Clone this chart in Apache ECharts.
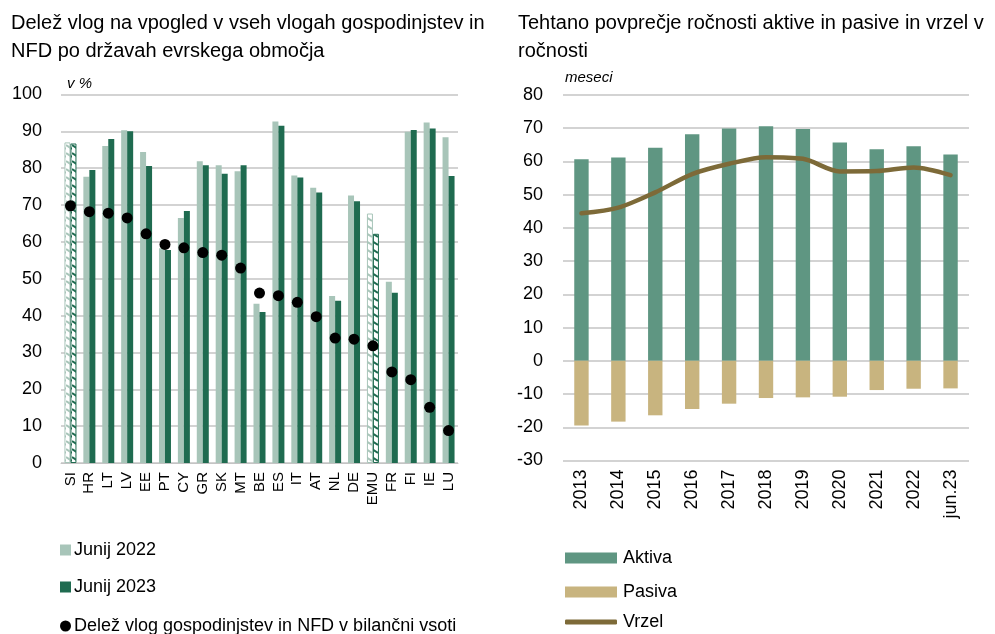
<!DOCTYPE html>
<html>
<head>
<meta charset="utf-8">
<script src="https://cdn.jsdelivr.net/npm/echarts@6/dist/echarts.min.js"></script>
<style>
  html, body { margin: 0; padding: 0; background: #fff; }
  #chart { width: 995px; height: 634px; }
</style>
</head>
<body>
<div id="chart"></div>
<script>
// levi graf: delež vlog na vpogled
const countries = ['SI', 'HR', 'LT', 'LV', 'EE', 'PT', 'CY', 'GR', 'SK', 'MT', 'BE', 'ES', 'IT', 'AT', 'NL', 'DE', 'EMU', 'FR', 'FI', 'IE', 'LU']
const june2022 = [87.0, 77.7, 86.0, 90.3, 84.4, 58.3, 66.5, 81.9, 80.8, 79.2, 43.2, 92.7, 78.0, 74.7, 45.3, 72.6, 67.7, 49.2, 89.9, 92.4, 88.4]
const june2023 = [86.7, 79.5, 87.9, 90.0, 80.6, 57.8, 68.4, 80.8, 78.5, 80.8, 41.0, 91.5, 77.5, 73.4, 44.0, 71.0, 62.2, 46.2, 90.4, 90.8, 77.9]
const balanceShare = [69.8, 68.2, 67.8, 66.5, 62.2, 59.3, 58.4, 57.1, 56.4, 52.9, 46.1, 45.4, 43.6, 39.7, 33.9, 33.6, 31.8, 24.7, 22.6, 15.1, 8.8]
const hatched = ['SI', 'EMU']
const leftTicks = [0, 10, 20, 30, 40, 50, 60, 70, 80, 90, 100]

// desni graf: ročnost aktive in pasive
const years = ['2013', '2014', '2015', '2016', '2017', '2018', '2019', '2020', '2021', '2022', 'jun.23']
const aktiva = [60.7, 61.2, 64.1, 68.2, 69.9, 70.6, 69.8, 65.7, 63.7, 64.6, 62.1]
const pasiva = [-19.5, -18.3, -16.4, -14.5, -12.9, -11.2, -11.0, -10.8, -8.8, -8.4, -8.3]
const vrzel = [44.4, 46.1, 50.7, 56.2, 59.3, 61.3, 60.8, 57.0, 57.1, 58.2, 55.9]
const rightTicks = [-30, -20, -10, 0, 10, 20, 30, 40, 50, 60, 70, 80]

const FONT = '"Liberation Sans", Arial, sans-serif'
const LIGHT = '#a8c5b9'
const DARK = '#1f6b50'
const AKTIVA = '#5f9682'
const PASIVA = '#c8b47f'
const VRZEL = '#7d6a38'
const GRID_LINE = '#c4c4c4'

// šrafura za SI in EMU
const makeHatch = (color) => {
  const c = document.createElement('canvas')
  c.width = 6
  c.height = 8
  const ctx = c.getContext('2d')
  ctx.fillStyle = '#fff'
  ctx.fillRect(0, 0, 6, 8)
  ctx.strokeStyle = color
  ctx.lineWidth = 2
  ctx.beginPath()
  ctx.moveTo(0, 1)
  ctx.lineTo(6, 5)
  ctx.stroke()
  return { image: c, repeat: 'repeat' }
}

const barItems = (values, color) => values.map((v, i) => {
  if (!hatched.includes(countries[i])) return v
  return {
    value: v,
    itemStyle: { color: makeHatch(color), borderColor: color, borderWidth: 1 }
  }
})

const axisText = { color: '#000', fontFamily: FONT }
const legendText = { fontSize: 18, color: '#000', fontFamily: FONT }

// ena legenda na vrstico, da jih ne prelomi v stolpce
const legendRow = (name, left, top, extra) => ({
  left, top, padding: 0,
  textStyle: { ...legendText, padding: [0, 0, 0, -2] },
  data: [name],
  ...extra
})

const chart = echarts.init(document.getElementById('chart'))

const option = {
  animation: false,
  textStyle: { fontFamily: FONT },
  title: [
    {
      text: 'Delež vlog na vpogled v vseh vlogah gospodinjstev in\nNFD po državah evrskega območja',
      left: 6, top: 4,
      textStyle: { fontSize: 20, fontWeight: 'normal', color: '#000', lineHeight: 28, fontFamily: FONT }
    },
    {
      text: 'Tehtano povprečje ročnosti aktive in pasive in vrzel v\nročnosti',
      left: 513, top: 4,
      textStyle: { fontSize: 20, fontWeight: 'normal', color: '#000', lineHeight: 28, fontFamily: FONT }
    }
  ],
  graphic: [
    { type: 'text', left: 67, top: 76, style: { text: 'v %', font: 'italic 15px ' + FONT, fill: '#000' } },
    { type: 'text', left: 565, top: 70, style: { text: 'meseci', font: 'italic 15px ' + FONT, fill: '#000' } }
  ],
  legend: [
    legendRow('Junij 2022', 60, 541, { icon: 'rect', itemWidth: 11, itemHeight: 11 }),
    legendRow('Junij 2023', 60, 578, { icon: 'rect', itemWidth: 11, itemHeight: 11 }),
    legendRow('Delež vlog gospodinjstev in NFD v bilančni vsoti', 60, 617, { icon: 'circle', itemWidth: 11, itemHeight: 11 }),
    legendRow('Aktiva', 565, 549, { icon: 'rect', itemWidth: 52, itemHeight: 11, textStyle: { ...legendText, padding: [0, 0, 0, 1] } }),
    legendRow('Pasiva', 565, 583, { icon: 'rect', itemWidth: 52, itemHeight: 11, textStyle: { ...legendText, padding: [0, 0, 0, 1] } }),
    legendRow('Vrzel', 565, 613, { icon: 'roundRect', itemWidth: 52, itemHeight: 5, textStyle: { ...legendText, padding: [0, 0, 0, 1] } })
  ],
  grid: [
    { left: 61, right: 537, top: 94.5, bottom: 171 },
    { left: 563, right: 26, top: 95, bottom: 173.5 }
  ],
  xAxis: [
    {
      type: 'category', gridIndex: 0, data: countries,
      axisLine: { lineStyle: { color: GRID_LINE } },
      axisTick: { show: false },
      axisLabel: { ...axisText, rotate: 90, fontSize: 15, margin: 9, interval: 0 }
    },
    {
      type: 'category', gridIndex: 1, data: years,
      axisLine: { show: false, onZero: false },
      axisTick: { show: false },
      axisLabel: { ...axisText, rotate: 90, fontSize: 18, margin: 9, interval: 0 }
    }
  ],
  yAxis: [
    {
      type: 'value', gridIndex: 0,
      min: leftTicks[0], max: leftTicks[leftTicks.length - 1], interval: 10,
      axisLine: { show: false }, axisTick: { show: false },
      axisLabel: { ...axisText, fontSize: 18, margin: 19 },
      splitLine: { lineStyle: { color: GRID_LINE, width: 1.5 } }
    },
    {
      type: 'value', gridIndex: 1,
      min: rightTicks[0], max: rightTicks[rightTicks.length - 1], interval: 10,
      axisLine: { show: false }, axisTick: { show: false },
      axisLabel: { ...axisText, fontSize: 18, margin: 20 },
      splitLine: { lineStyle: { color: GRID_LINE, width: 1.5 } }
    }
  ],
  series: [
    {
      name: 'Junij 2022', type: 'bar', xAxisIndex: 0, yAxisIndex: 0,
      data: barItems(june2022, LIGHT), barWidth: 6, barGap: '0%',
      itemStyle: { color: LIGHT }
    },
    {
      name: 'Junij 2023', type: 'bar', xAxisIndex: 0, yAxisIndex: 0,
      data: barItems(june2023, DARK), barWidth: 6, barGap: '0%',
      itemStyle: { color: DARK }
    },
    {
      name: 'Delež vlog gospodinjstev in NFD v bilančni vsoti', type: 'scatter',
      xAxisIndex: 0, yAxisIndex: 0, data: balanceShare,
      symbolSize: 11, itemStyle: { color: '#000', opacity: 1 }, z: 5
    },
    {
      name: 'Aktiva', type: 'bar', xAxisIndex: 1, yAxisIndex: 1,
      data: aktiva, stack: 'rocnost', barWidth: '39%',
      itemStyle: { color: AKTIVA }
    },
    {
      name: 'Pasiva', type: 'bar', xAxisIndex: 1, yAxisIndex: 1,
      data: pasiva, stack: 'rocnost', barWidth: '39%',
      itemStyle: { color: PASIVA }
    },
    {
      name: 'Vrzel', type: 'line', xAxisIndex: 1, yAxisIndex: 1,
      data: vrzel, smooth: 0.3, symbol: 'none', z: 5,
      lineStyle: { color: VRZEL, width: 4.5, cap: 'round' },
      itemStyle: { color: VRZEL }
    }
  ]
}

chart.setOption(option)
</script>
</body>
</html>
